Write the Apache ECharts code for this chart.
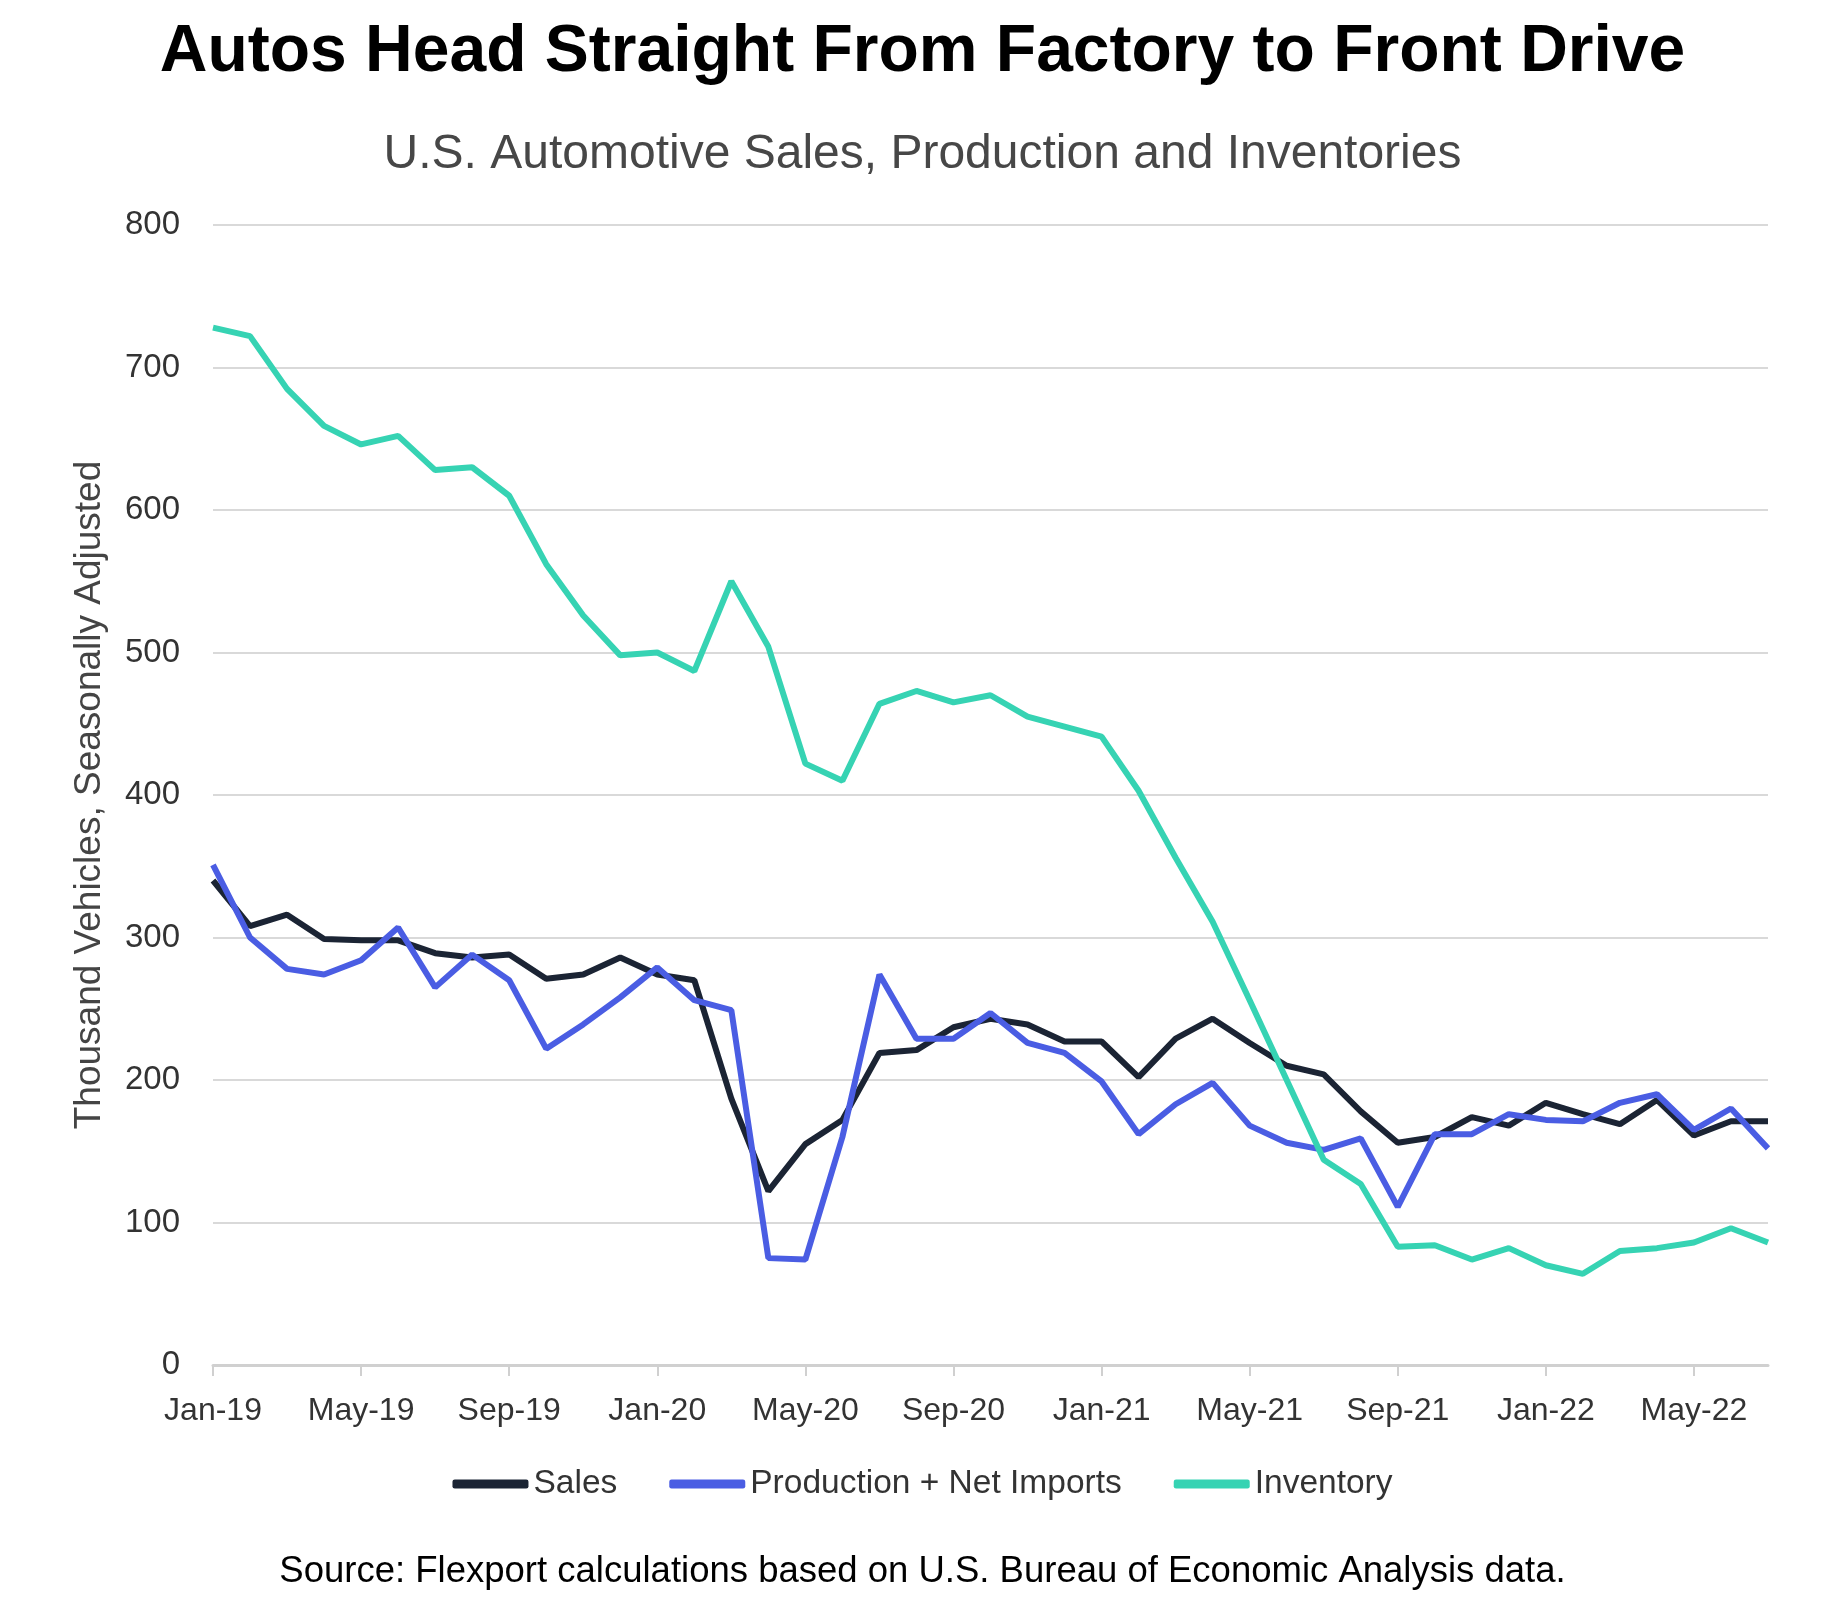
<!DOCTYPE html>
<html>
<head>
<meta charset="utf-8">
<script src="https://cdn.jsdelivr.net/npm/echarts@6/dist/echarts.min.js"></script>
<style>
html,body{margin:0;padding:0;background:#fff;}
#chart{width:1845px;height:1598px;}
</style>
</head>
<body>
<div id="chart"></div>
<script>
const months = ['Jan-19','Feb-19','Mar-19','Apr-19','May-19','Jun-19','Jul-19','Aug-19','Sep-19','Oct-19','Nov-19','Dec-19',
  'Jan-20','Feb-20','Mar-20','Apr-20','May-20','Jun-20','Jul-20','Aug-20','Sep-20','Oct-20','Nov-20','Dec-20',
  'Jan-21','Feb-21','Mar-21','Apr-21','May-21','Jun-21','Jul-21','Aug-21','Sep-21','Oct-21','Nov-21','Dec-21',
  'Jan-22','Feb-22','Mar-22','Apr-22','May-22','Jun-22','Jul-22'];
const sales = [340,308,316,299,298,298,289,286,288,271,274,286,274,270,187,122,155,172,219,221,237,243,239,227,227,202,229,243,226,210,204,178,156,160,174,168,184,176,169,186,161,171,171];
const production = [351,300,278,274,284,307,265,288,270,222,239,258,279,256,249,75,74,160,274,229,229,247,226,219,199,162,183,198,168,156,151,159,111,162,162,176,172,171,184,190,165,180,152];
const inventory = [728,722,685,659,646,652,628,630,610,562,526,498,500,487,550,504,422,410,464,473,465,470,455,448,441,403,356,311,256,200,144,127,83,84,74,82,70,64,80,82,86,96,86];
const yTicks = {min:0, max:800, interval:100};

const FONT = "'Liberation Sans', Arial, sans-serif";
const chart = echarts.init(document.getElementById('chart'), null, {renderer:'canvas'});
const lineSeries = (name, data, color) => ({
  name, type:'line', data, showSymbol:false, symbol:'none',
  lineStyle:{color, width:6}, itemStyle:{color}
});
chart.setOption({
  animation:false,
  backgroundColor:'#fff',
  textStyle:{fontFamily:FONT},
  title:[
    {text:'Autos Head Straight From Factory to Front Drive', left:'center', top:15,
     textStyle:{fontFamily:FONT, fontSize:66, fontWeight:'bold', color:'#000'}},
    {text:'U.S. Automotive Sales, Production and Inventories', left:'center', top:126,
     textStyle:{fontFamily:FONT, fontSize:48, fontWeight:'normal', color:'#474747'}},
    {text:'Source: Flexport calculations based on U.S. Bureau of Economic Analysis data.', left:'center', top:1548,
     textStyle:{fontFamily:FONT, fontSize:36.5, fontWeight:'normal', color:'#000'}}
  ],
  legend:{
    top:1462, left:'center', itemWidth:76, itemHeight:9, itemGap:52, icon:'roundRect',
    textStyle:{fontFamily:FONT, fontSize:33.5, color:'#333'},
    data:['Sales','Production + Net Imports','Inventory']
  },
  grid:{left:213, right:77, top:225, bottom:233, containLabel:false},
  xAxis:{
    type:'category', data:months, boundaryGap:false,
    axisLine:{lineStyle:{color:'#d0d0d0', width:3}},
    axisTick:{interval:3, length:11, lineStyle:{color:'#d0d0d0', width:2}},
    axisLabel:{interval:3, margin:30, fontFamily:FONT, fontSize:32, color:'#333'}
  },
  yAxis:{
    type:'value', min:yTicks.min, max:yTicks.max, interval:yTicks.interval,
    name:'Thousand Vehicles, Seasonally Adjusted', nameLocation:'middle', nameGap:105,
    nameTextStyle:{fontFamily:FONT, fontSize:37, color:'#444'},
    axisLine:{show:false}, axisTick:{show:false},
    axisLabel:{margin:33, fontFamily:FONT, fontSize:33, color:'#333'},
    splitLine:{lineStyle:{color:'#d9d9d9', width:2}}
  },
  series:[
    lineSeries('Sales', sales, '#1b2434'),
    lineSeries('Production + Net Imports', production, '#4a5de3'),
    lineSeries('Inventory', inventory, '#36d3b3')
  ]
});
</script>
</body>
</html>
